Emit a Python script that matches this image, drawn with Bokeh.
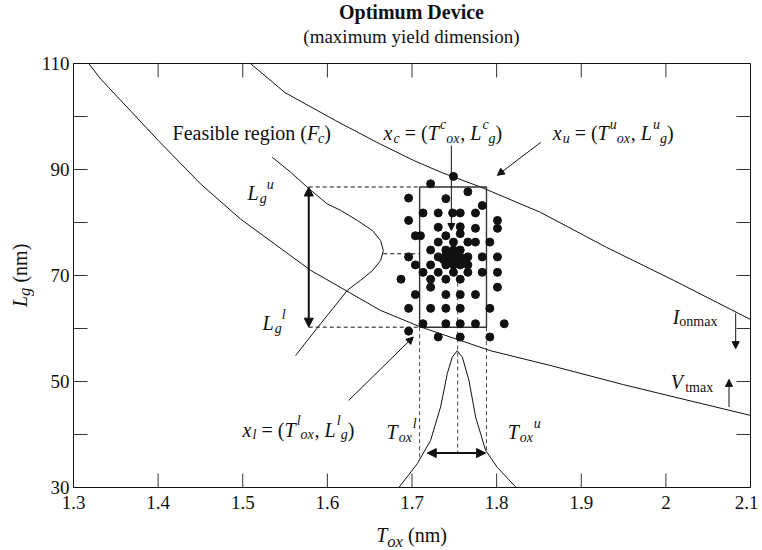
import math
from bokeh.plotting import figure
from bokeh.models import Label, Arrow, NormalHead, FixedTicker, Range1d, Div
from bokeh.layouts import row, column
from bokeh.embed import file_html
from bokeh.resources import INLINE

FONT = "Liberation Serif"
INK = "#111111"

# ---------------- data ----------------
x_ticks = [1.3, 1.4, 1.5, 1.6, 1.7, 1.8, 1.9, 2.0, 2.1]
y_ticks = [30, 40, 50, 60, 70, 80, 90, 100, 110]
y_labels_shown = [30, 50, 70, 90, 110]

# I_onmax boundary (upper curve)
upper_T = [1.509, 1.55, 1.61, 1.66, 1.702, 1.734, 1.781, 1.852, 1.93, 2.009, 2.1]
upper_L = [110.0, 104.5, 99.2, 95.0, 91.7, 89.5, 86.7, 81.9, 75.3, 69.1, 61.7]

# V_tmax boundary (lower curve)
lower_T = [1.318, 1.332, 1.4, 1.45, 1.497, 1.58, 1.663, 1.71, 1.793, 1.864, 1.95, 2.03, 2.1]
lower_L = [110.0, 107.1, 95.5, 87.3, 80.7, 71.0, 63.4, 60.3, 55.8, 53.0, 49.4, 46.3, 43.6]

# distribution of T_ox (bottom bell)
tox_pdf_T = [1.6845, 1.7063, 1.722, 1.7338, 1.7417, 1.7476, 1.7535, 1.7595, 1.7673, 1.7752, 1.787, 1.8008, 1.8225]
tox_pdf_L = [30.0, 34.5, 38.9, 45.2, 51.5, 54.6, 55.8, 54.6, 50.2, 43.3, 37.0, 33.8, 30.1]

# distribution of L_g (left bell)
lg_pdf_T = [1.5349, 1.5565, 1.5781, 1.5999, 1.6156, 1.6353, 1.6531, 1.6629, 1.6661, 1.6629,
            1.6531, 1.6392, 1.6235, 1.6077, 1.592, 1.5762, 1.5624]
lg_pdf_L = [92.3, 89.5, 86.4, 83.5, 82.3, 80.4, 78.5, 76.6, 74.7, 72.8,
            70.9, 69.1, 67.2, 64.0, 60.9, 57.7, 54.9]

# Monte-Carlo samples
dots_T = [1.749, 1.722, 1.766, 1.696, 1.740, 1.783, 1.713, 1.731, 1.748, 1.757,
          1.775, 1.696, 1.801, 1.731, 1.757, 1.775, 1.801, 1.704, 1.710, 1.740,
          1.757, 1.731, 1.749, 1.766, 1.775, 1.792, 1.722, 1.740, 1.749, 1.757,
          1.696, 1.731, 1.740, 1.749, 1.757, 1.766, 1.783, 1.801, 1.704, 1.722,
          1.740, 1.749, 1.757, 1.766, 1.713, 1.731, 1.749, 1.766, 1.783, 1.801,
          1.687, 1.722, 1.740, 1.757, 1.722, 1.801, 1.704, 1.740, 1.757, 1.775,
          1.696, 1.722, 1.740, 1.757, 1.792, 1.713, 1.740, 1.757, 1.775, 1.809,
          1.696, 1.731, 1.757, 1.792, 1.744, 1.753, 1.760, 1.745, 1.737, 1.753]
dots_L = [88.7, 87.3, 85.8, 84.6, 84.5, 83.2, 81.8, 81.8, 81.8, 81.8,
          81.8, 80.4, 80.4, 79.1, 79.2, 78.9, 78.9, 77.5, 77.5, 77.5,
          77.9, 76.3, 76.3, 76.3, 76.3, 76.3, 74.8, 74.8, 74.8, 74.8,
          73.5, 73.5, 73.8, 73.8, 73.5, 73.5, 73.5, 73.5, 72.0, 72.0,
          72.0, 72.0, 72.0, 72.0, 70.6, 70.6, 70.6, 70.6, 70.6, 70.6,
          69.3, 69.3, 69.3, 69.3, 67.8, 67.8, 66.4, 66.4, 66.4, 66.4,
          63.8, 63.8, 63.8, 63.8, 63.8, 60.9, 60.9, 60.9, 60.9, 60.9,
          59.5, 58.4, 58.4, 58.4, 74.3, 74.3, 73.0, 73.0, 73.0, 73.0]

# tolerance box (T_ox^l, T_ox^u) x (L_g^l, L_g^u) and its centre
rect_T = [1.709, 1.788]
rect_L = [60.25, 86.7]
center_T = 1.754
center_L = 74.1
lg_peak_T = 1.666          # right-most point of the L_g bell
lg_arrow_T = 1.578         # double arrow for L_g range
tox_arrow_L = 36.5         # double arrow for T_ox range
tox_arrow_T = [1.718, 1.787]

# ---------------- layout constants ----------------
TDIV_H = 50
YDIV_W = 34
P_W = 724
FRAME_LEFT = 73            # page px
FRAME_TOP = 63
FRAME_W = 677
FRAME_H = 424
BORDER_BOTTOM = 33
XDIV_H = 28
P_H = (FRAME_TOP - TDIV_H) + FRAME_H + BORDER_BOTTOM
TICK_PX = 14

# ---------------- figure ----------------
p = figure(width=P_W, height=P_H, x_range=Range1d(1.3, 2.1), y_range=Range1d(30, 110),
           output_backend="svg", toolbar_location=None, title=None)
p.min_border_left = FRAME_LEFT - YDIV_W
p.min_border_right = P_W - (FRAME_LEFT - YDIV_W) - FRAME_W
p.min_border_top = FRAME_TOP - TDIV_H
p.min_border_bottom = BORDER_BOTTOM
p.margin = (0, 0, 0, 0)
p.background_fill_color = "white"
p.border_fill_color = "white"
p.outline_line_color = INK
p.xgrid.visible = False
p.ygrid.visible = False

for ax, ticks in ((p.xaxis[0], x_ticks), (p.yaxis[0], y_ticks)):
    ax.ticker = FixedTicker(ticks=ticks)
    ax.major_tick_in = 0
    ax.major_tick_out = 0
    ax.minor_tick_line_color = None
    ax.axis_line_color = INK
    ax.major_label_text_font = FONT
    ax.major_label_text_color = INK
    ax.major_label_text_font_size = "19px"
p.xaxis[0].major_label_standoff = 8
p.yaxis[0].major_label_standoff = 4
p.yaxis[0].major_label_overrides = {t: (str(t) if t in y_labels_shown else "") for t in y_ticks}

# inward tick marks on all four sides (drawn at the axis tick values)
dx = TICK_PX * 0.8 / FRAME_W
dy = TICK_PX * 80.0 / FRAME_H
xt_in = x_ticks[1:-1]
yt_in = y_ticks[1:-1]
p.segment(x0=xt_in, y0=[30] * len(xt_in), x1=xt_in, y1=[30 + dy] * len(xt_in), line_color="#333333", line_width=1)
p.segment(x0=xt_in, y0=[110] * len(xt_in), x1=xt_in, y1=[110 - dy] * len(xt_in), line_color="#333333", line_width=1)
p.segment(x0=[1.3] * len(yt_in), y0=yt_in, x1=[1.3 + dx] * len(yt_in), y1=yt_in, line_color="#333333", line_width=1)
p.segment(x0=[2.1] * len(yt_in), y0=yt_in, x1=[2.1 - dx] * len(yt_in), y1=yt_in, line_color="#333333", line_width=1)

# curves
p.line(upper_T, upper_L, line_color=INK, line_width=1)
p.line(lower_T, lower_L, line_color=INK, line_width=1)
p.line(tox_pdf_T, tox_pdf_L, line_color=INK, line_width=1)
p.line(lg_pdf_T, lg_pdf_L, line_color=INK, line_width=1)

# dashed guides
DASH = "4 3"
p.line([lg_arrow_T, rect_T[0]], [rect_L[1], rect_L[1]], line_color=INK, line_dash=DASH, line_width=1)
p.line([lg_arrow_T, rect_T[0]], [rect_L[0], rect_L[0]], line_color=INK, line_dash=DASH, line_width=1)
p.line([lg_peak_T, rect_T[0]], [center_L, center_L], line_color=INK, line_dash=DASH, line_width=1)
p.line([rect_T[0], rect_T[0]], [rect_L[0], tox_arrow_L - 1], line_color=INK, line_dash=DASH, line_width=0.8)
p.line([rect_T[1], rect_T[1]], [rect_L[0], tox_arrow_L], line_color=INK, line_dash=DASH, line_width=0.8)
p.line([center_T, center_T], [70, tox_arrow_L], line_color=INK, line_dash=DASH, line_width=0.8)

# tolerance box
p.quad(left=rect_T[0], right=rect_T[1], bottom=rect_L[0], top=rect_L[1],
       fill_color=None, line_color="#333333", line_width=1.4)

# samples
p.scatter(dots_T, dots_L, size=8, fill_color=INK, line_color=INK)


def arrow(x0, y0, x1, y1, both=False, width=1, size=8):
    kw = dict(end=NormalHead(size=size, fill_color=INK, line_color=INK),
              x_start=x0, y_start=y0, x_end=x1, y_end=y1, line_color=INK, line_width=width)
    kw["start"] = NormalHead(size=size, fill_color=INK, line_color=INK) if both else None
    p.add_layout(Arrow(**kw))


arrow(1.7465, 94.5, 1.7465, 78.5, size=7)              # x_c
arrow(1.852, 95.1, 1.8008, 88.9, size=7)               # x_u
arrow(1.625, 46.4, 1.7015, 58.4, size=7)               # x_l
arrow(lg_arrow_T, rect_L[1], lg_arrow_T, rect_L[0], both=True, width=2, size=9)
arrow(tox_arrow_T[0], tox_arrow_L, tox_arrow_T[1], tox_arrow_L, both=True, width=2, size=9)
arrow(2.0825, 62.9, 2.0825, 56.2, size=7)              # I_onmax
arrow(2.0746, 45.2, 2.0746, 50.4, size=7)              # V_tmax

# ---------------- rich text helper ----------------
W = {' ': 250, '(': 333, ')': 333, '=': 564, ',': 250, '.': 250,
     'a': 444, 'b': 500, 'c': 444, 'd': 500, 'e': 444, 'f': 333, 'g': 500, 'h': 500,
     'i': 278, 'j': 278, 'k': 500, 'l': 278, 'm': 778, 'n': 500, 'o': 500, 'p': 500,
     'q': 500, 'r': 333, 's': 389, 't': 278, 'u': 500, 'v': 500, 'w': 722, 'x': 500,
     'y': 500, 'z': 444, 'F': 556, 'L': 611, 'T': 611, 'I': 333, 'V': 722}


def tw(txt, size):
    return sum(W.get(ch, 500) for ch in txt) * size / 1000.0


def rich(x, y, pieces):
    off = 0.0
    for txt, style, size, dy_ in pieces:
        lead = len(txt) - len(txt.lstrip(' '))
        pos = off + lead * 250 * size / 1000.0
        p.add_layout(Label(x=x, y=y, x_offset=pos, y_offset=dy_, text=txt.strip(),
                           text_font=FONT, text_font_style=style, text_font_size=f"{size}px",
                           text_baseline="alphabetic", text_align="left", text_color=INK))
        off += tw(txt, size)


S, s = 20, 14
SUB, SUP = -5, 9

rich(1.417, 96.8, [("Feasible region (", "normal", S, 0), ("F", "italic", S, 0),
                   ("c", "italic", s, SUB), (")", "normal", S, 0)])
rich(1.6664, 96.8, [("x", "italic", S, 0), ("c", "italic", s, SUB), (" = (", "normal", S, 0),
                    ("T", "italic", S, 0), ("c", "italic", s, SUP), ("ox", "italic", s, SUB),
                    (", ", "normal", S, 0), ("L", "italic", S, 0), ("c", "italic", s, SUP),
                    ("g", "italic", s, SUB), (")", "normal", S, 0)])
rich(1.8662, 96.8, [("x", "italic", S, 0), ("u", "italic", s, SUB), (" = (", "normal", S, 0),
                    ("T", "italic", S, 0), ("u", "italic", s, SUP), ("ox", "italic", s, SUB),
                    (", ", "normal", S, 0), ("L", "italic", S, 0), ("u", "italic", s, SUP),
                    ("g", "italic", s, SUB), (")", "normal", S, 0)])
rich(1.5057, 85.5, [("L", "italic", S, 0), ("g", "italic", s, SUB), ("u", "italic", s, SUP)])
rich(1.5234, 61.0, [("L", "italic", S, 0), ("g", "italic", s, SUB), ("l", "italic", s, SUP)])
rich(1.4998, 40.9, [("x", "italic", S, 0), ("l", "italic", s, SUB), (" = (", "normal", S, 0),
                    ("T", "italic", S, 0), ("l", "italic", s, SUP), ("ox", "italic", s, SUB),
                    (", ", "normal", S, 0), ("L", "italic", S, 0), ("l", "italic", s, SUP),
                    ("g", "italic", s, SUB), (")", "normal", S, 0)])
rich(1.670, 40.4, [("T", "italic", S, 0), ("ox", "italic", s, SUB), ("l", "italic", s, SUP)])
rich(1.813, 40.4, [("T", "italic", S, 0), ("ox", "italic", s, SUB), ("u", "italic", s, SUP)])
rich(2.008, 62.2, [("I", "italic", S, 0), ("onmax", "normal", s, SUB)])
rich(2.0057, 49.9, [("V", "italic", S, 0), ("tmax", "normal", s, SUB)])

# ---------------- titles and axis titles (HTML, outside the canvas) ----------------
CSS_FONT = "font-family:'Liberation Serif','Times New Roman',serif; color:#111; white-space:nowrap;"
tdiv = Div(text=(f'<div style="{CSS_FONT} width:{FRAME_W}px; text-align:center;">'
                 f'<div style="{CSS_FONT} font-size:20px; font-weight:bold; line-height:24px;">Optimum Device</div>'
                 f'<div style="{CSS_FONT} font-size:19px; line-height:26px;">(maximum yield dimension)</div></div>'),
           width=FRAME_W, height=TDIV_H, margin=(0, 0, 0, FRAME_LEFT))
ydiv = Div(text=(f'<div style="{CSS_FONT} font-size:20px; writing-mode:vertical-rl; transform:rotate(180deg); '
                 f'height:{FRAME_H}px; margin-top:{FRAME_TOP - TDIV_H}px; margin-left:8px; text-align:center; line-height:24px;">'
                 f'<i style="{CSS_FONT}">L</i><sub style="{CSS_FONT}"><i>g</i></sub>'
                 f'<span style="{CSS_FONT}"> (nm)</span></div>'),
           width=YDIV_W, height=P_H, margin=(0, 0, 0, 0))
xdiv = Div(text=(f'<div style="{CSS_FONT} font-size:20px; width:{FRAME_W}px; text-align:center; line-height:22px; padding-top:4px;">'
                 f'<i style="{CSS_FONT}">T</i><sub style="{CSS_FONT}"><i>ox</i></sub>'
                 f'<span style="{CSS_FONT}"> (nm)</span></div>'),
           width=FRAME_W, height=XDIV_H, margin=(0, 0, 0, FRAME_LEFT))

layout = column(tdiv, row(ydiv, p, spacing=0), xdiv, spacing=0)

open("out.html", "w").write(file_html(layout, INLINE))
